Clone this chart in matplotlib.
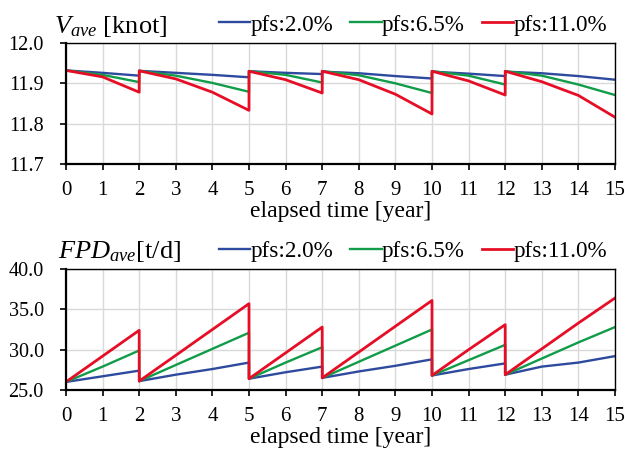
import matplotlib
matplotlib.use("Agg")
import matplotlib.pyplot as plt

years = [0, 1, 2, 2, 3, 4, 5, 5, 6, 7, 7, 8, 9, 10, 10, 11, 12, 12, 13, 14, 15]

v_pfs2 = [11.932, 11.926, 11.919, 11.931, 11.926, 11.921, 11.915, 11.930, 11.926, 11.923, 11.929,
          11.925, 11.918, 11.912, 11.929, 11.924, 11.918, 11.929, 11.925, 11.918, 11.909]
v_pfs65 = [11.932, 11.921, 11.903, 11.931, 11.919, 11.901, 11.879, 11.930, 11.921, 11.902, 11.930,
           11.920, 11.900, 11.876, 11.930, 11.919, 11.897, 11.930, 11.919, 11.897, 11.871]
v_pfs11 = [11.932, 11.916, 11.878, 11.931, 11.911, 11.878, 11.833, 11.930, 11.909, 11.876, 11.930,
           11.909, 11.873, 11.824, 11.930, 11.906, 11.871, 11.930, 11.904, 11.870, 11.816]

fpd_pfs2 = [26.0, 26.7, 27.4, 26.1, 26.9, 27.6, 28.4, 26.4, 27.2, 27.9, 26.5,
            27.3, 28.0, 28.8, 26.8, 27.6, 28.3, 26.9, 27.9, 28.4, 29.2]
fpd_pfs65 = [26.0, 27.9, 29.9, 26.1, 28.1, 30.1, 32.1, 26.4, 28.4, 30.3, 26.5,
             28.5, 30.5, 32.5, 26.8, 28.7, 30.6, 26.9, 28.9, 30.9, 32.8]
fpd_pfs11 = [26.0, 29.2, 32.4, 26.1, 29.3, 32.5, 35.7, 26.4, 29.6, 32.8, 26.5,
             29.7, 32.9, 36.1, 26.8, 30.0, 33.1, 26.9, 30.1, 33.3, 36.4]

labels = ["pfs:2.0%", "pfs:6.5%", "pfs:11.0%"]
colors = ["#2E4A9E", "#109C48", "#E60E26"]
widths = [1.7, 1.7, 2.0]

xticks = list(range(0, 16))
v_ticks = [11.7, 11.8, 11.9, 12.0]
fpd_ticks = [25.0, 30.0, 35.0, 40.0]

plt.rcParams['font.family'] = ['Liberation Serif', 'DejaVu Serif']
plt.rcParams['mathtext.fontset'] = 'custom'
plt.rcParams['mathtext.rm'] = 'Liberation Serif'
plt.rcParams['mathtext.it'] = 'Liberation Serif:italic'

fig = plt.figure(figsize=(6.25, 4.5), dpi=100)
ax1 = fig.add_axes([66/625, 1-164/450, 549/625, 121/450])
ax2 = fig.add_axes([66/625, 1-390/450, 549/625, 121/450])


def style(ax, yticks, fmt):
    ax.set_xlim(0, 15)
    ax.set_ylim(yticks[0], yticks[-1])
    ax.set_xticks(xticks)
    ax.set_yticks(yticks)
    ax.set_yticklabels([fmt.format(t) for t in yticks])
    ax.grid(True, color="#d9d9d9", lw=1.0)
    ax.set_axisbelow(True)
    for s in ["left", "bottom"]:
        ax.spines[s].set_linewidth(1.6)
    for s in ["top", "right"]:
        ax.spines[s].set_linewidth(1.0)
    ax.tick_params(axis="both", direction="out", length=4, width=1.2)
    ax.tick_params(axis="y", pad=12, labelsize=14.5)
    ax.tick_params(axis="x", pad=8, labelsize=15)
    ax.set_xlabel("elapsed time [year]", fontsize=17, labelpad=1)


for vals, lab, c, w in zip([v_pfs2, v_pfs65, v_pfs11], labels, colors, widths):
    ax1.plot(years, vals, color=c, lw=w, label=lab)
for vals, lab, c, w in zip([fpd_pfs2, fpd_pfs65, fpd_pfs11], labels, colors, widths):
    ax2.plot(years, vals, color=c, lw=w, label=lab)

style(ax1, v_ticks, "{:.1f}")
style(ax2, fpd_ticks, "{:.1f}")

for ax, ytop in [(ax1, 25), (ax2, 251)]:
    ax.legend(loc="center right", bbox_to_anchor=(607/625, 1-ytop/450),
              bbox_transform=fig.transFigure, ncol=3, frameon=False,
              fontsize=16.7, handlelength=1.35, handletextpad=0.0,
              columnspacing=0.75, borderpad=0, borderaxespad=0)

fig.text(54/625, 1-33/450, r"$V_{ave}$ [knot]", fontsize=19, ha="left", va="baseline")
fig.text(58/625, 1-258/450, r"$FPD_{ave}$[t/d]", fontsize=19, ha="left", va="baseline")

fig.savefig("out.png", dpi=100)
